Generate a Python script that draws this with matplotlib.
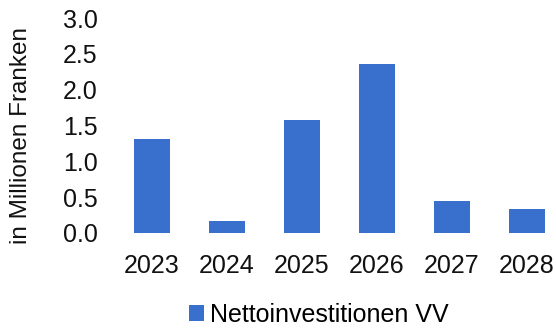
import matplotlib
matplotlib.use("Agg")
import matplotlib.pyplot as plt

plt.rcParams['font.family'] = ['Liberation Sans', 'DejaVu Sans']

years = ["2023", "2024", "2025", "2026", "2027", "2028"]
values = [1.31, 0.17, 1.58, 2.36, 0.45, 0.34]
y_ticks = [0.0, 0.5, 1.0, 1.5, 2.0, 2.5, 3.0]
series_name = "Nettoinvestitionen VV"
ylabel = "in Millionen Franken"
color = "#3A70CD"

fig = plt.figure(figsize=(5.56, 3.32), dpi=100)
ax = fig.add_axes([114.5/556, 99/332, 1 - 114.5/556, (314-99)/332])
x = list(range(len(years)))
ax.bar(x, values, width=0.49, color=color, label=series_name)
ax.set_xlim(-0.5, 5.5 - (564.5-556)/75)
ax.set_ylim(0, 3.0)
ax.set_yticks(y_ticks)
ax.set_yticklabels([f"{v:.1f}" for v in y_ticks])
ax.set_xticks(x)
ax.set_xticklabels(years)
for s in ax.spines.values():
    s.set_visible(False)
ax.tick_params(axis='both', length=0, labelsize=18, colors='#111111')
ax.tick_params(axis='y', pad=12)
ax.tick_params(axis='x', pad=15)
for t in ax.get_yticklabels() + ax.get_xticklabels():
    t.set_clip_on(False)
ax.set_ylabel(ylabel, fontsize=17.5, color='#111111')
ax.yaxis.set_label_coords((32-114.5) / (556-114.5), 0.455)

fig.legend(loc='center', bbox_to_anchor=((191+447)/2/556, 1-315/332),
           frameon=False, fontsize=18, handlelength=0.6, handleheight=0.6,
           handletextpad=0.25, borderaxespad=0, borderpad=0)
fig.savefig("out.png", dpi=100)
